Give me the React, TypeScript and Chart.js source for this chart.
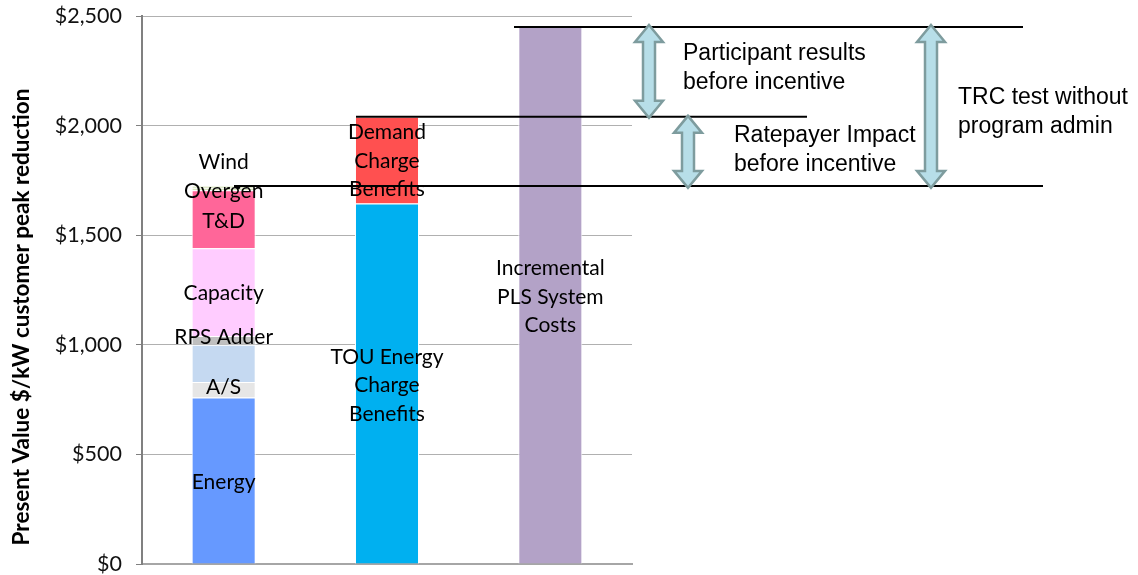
import { useEffect, useRef } from "react";
import { Chart, registerables } from "chart.js";

Chart.register(...registerables);

// ---- data ----
const categories = ["Avoided Costs", "Bill Savings", "PLS Costs"];
const energy = [760, null, null];
const ancillary = [70, null, null];
const otherAvoided = [170, null, null];
const rpsAdder = [40, null, null];
const capacity = [400, null, null];
const tnd = [265, null, null];
const overgen = [12, null, null];
const wind = [8, null, null];
const touEnergy = [null, 1645, null];
const demandCharge = [null, 395, null];
const plsCosts = [null, null, 2450];
const yTickMin = 0;
const yTickMax = 2500;
const yTickStep = 500;
const axisTitle = "Present Value $/kW customer peak reduction";
const noteParticipant = ["Participant results", "before incentive"];
const noteRatepayer = ["Ratepayer Impact", "before incentive"];
const noteTrc = ["TRC test without", "program admin"];

type DS = {
  label: string;
  data: (number | null)[];
  color: string;
  text: string[];
  offset?: number;
};

const seriesList: DS[] = [
  { label: "Energy", data: energy, color: "#6699FF", text: ["Energy"], offset: 2 },
  { label: "A/S", data: ancillary, color: "#E6E6E6", text: ["A/S"], offset: -3 },
  { label: "Other", data: otherAvoided, color: "#C5D9F1", text: [] },
  { label: "RPS Adder", data: rpsAdder, color: "#BFBFBF", text: ["RPS Adder"], offset: -3 },
  { label: "Capacity", data: capacity, color: "#FFCCFF", text: ["Capacity"], offset: 1 },
  { label: "T&D", data: tnd, color: "#FF6699", text: ["T&D"], offset: 2 },
  { label: "Overgen", data: overgen, color: "#D7E4BD", text: ["Overgen"], offset: 2 },
  { label: "Wind", data: wind, color: "#C3D69B", text: ["Wind"], offset: -25 },
  { label: "TOU Energy Charge Benefits", data: touEnergy, color: "#00B0F0", text: ["TOU Energy", "Charge", "Benefits"], offset: 2 },
  { label: "Demand Charge Benefits", data: demandCharge, color: "#FF5050", text: ["Demand", "Charge", "Benefits"], offset: 1 },
  { label: "Incremental PLS System Costs", data: plsCosts, color: "#B3A2C7", text: ["Incremental", "PLS System", "Costs"], offset: 2 },
];

const total = (i: number) =>
  seriesList.reduce((s, d) => s + (d.data[i] ?? 0), 0);

const labelPlugin = {
  id: "segLabels",
  afterDatasetsDraw(chart: any) {
    const ctx = chart.ctx;
    ctx.save();
    ctx.font = "21px Lato";
    ctx.fillStyle = "#000";
    ctx.textAlign = "center";
    ctx.textBaseline = "middle";
    const lh = 28.5;
    seriesList.forEach((s, di) => {
      const meta = chart.getDatasetMeta(di);
      meta.data.forEach((el: any, i: number) => {
        if (s.data[i] == null || !s.text.length) return;
        const cy = (el.y + el.base) / 2 + (s.offset ?? 0);
        const n = s.text.length;
        s.text.forEach((t, k) => {
          ctx.fillText(t, el.x, cy + (k - (n - 1) / 2) * lh);
        });
      });
    });
    ctx.restore();
  },
};

function drawDoubleArrow(ctx: CanvasRenderingContext2D, cx: number, y1: number, y2: number) {
  const sh = 6;
  const hh = 14;
  const hl = 17;
  ctx.beginPath();
  ctx.moveTo(cx, y1);
  ctx.lineTo(cx + hh, y1 + hl);
  ctx.lineTo(cx + sh, y1 + hl);
  ctx.lineTo(cx + sh, y2 - hl);
  ctx.lineTo(cx + hh, y2 - hl);
  ctx.lineTo(cx, y2);
  ctx.lineTo(cx - hh, y2 - hl);
  ctx.lineTo(cx - sh, y2 - hl);
  ctx.lineTo(cx - sh, y1 + hl);
  ctx.lineTo(cx - hh, y1 + hl);
  ctx.closePath();
  ctx.fillStyle = "#B7DEE8";
  ctx.fill();
  ctx.strokeStyle = "#7E9C9E";
  ctx.lineWidth = 2.5;
  ctx.lineJoin = "miter";
  ctx.stroke();
}

const notesPlugin = {
  id: "notes",
  afterDraw(chart: any) {
    const ctx = chart.ctx;
    const y = chart.scales.y;
    const yRate = y.getPixelForValue(total(0));
    const yBill = y.getPixelForValue(total(1));
    const yCost = y.getPixelForValue(total(2));
    ctx.save();
    // axis title
    ctx.save();
    ctx.translate(22, 317);
    ctx.rotate(-Math.PI / 2);
    ctx.font = "bold 22.5px Lato";
    ctx.fillStyle = "#000";
    ctx.textAlign = "center";
    ctx.textBaseline = "middle";
    ctx.fillText(axisTitle, 0, 0);
    ctx.restore();
    // horizontal lines
    ctx.strokeStyle = "#000";
    ctx.lineWidth = 2;
    const hline = (yy: number, x1: number, x2: number) => {
      ctx.beginPath();
      ctx.moveTo(x1, yy);
      ctx.lineTo(x2, yy);
      ctx.stroke();
    };
    hline(yRate, 234, 1043);
    hline(yBill, 356, 807);
    hline(yCost, 514, 1023);
    // arrows
    drawDoubleArrow(ctx, 649, yCost - 2, yBill + 1);
    drawDoubleArrow(ctx, 688, yBill - 1, yRate + 2);
    drawDoubleArrow(ctx, 931, yCost - 2, yRate + 2);
    // texts
    ctx.font = "23px 'Liberation Sans', Arial, sans-serif";
    ctx.fillStyle = "#000";
    ctx.textAlign = "left";
    ctx.textBaseline = "middle";
    const lh = 28.5;
    noteParticipant.forEach((t, k) => ctx.fillText(t, 683, 54 + k * lh));
    noteRatepayer.forEach((t, k) => ctx.fillText(t, 734, 136 + k * lh));
    noteTrc.forEach((t, k) => ctx.fillText(t, 958, 98 + k * lh));
    ctx.restore();
  },
};

export default function App() {
  const ref = useRef<HTMLCanvasElement | null>(null);
  useEffect(() => {
    if (!ref.current) return;
    const chart = new Chart(ref.current, {
      type: "bar",
      data: {
        labels: categories,
        datasets: seriesList.map((s) => ({
          label: s.label,
          data: s.data as any,
          backgroundColor: s.color,
          borderColor: "#FFFFFF",
          borderWidth: 1,
          categoryPercentage: 1,
          barPercentage: 0.392,
        })),
      },
      options: {
        animation: false,
        responsive: false,
        maintainAspectRatio: false,
        layout: { padding: { top: 16, right: 506, left: 0, bottom: 0 } },
        plugins: {
          legend: { display: false },
          tooltip: { enabled: false },
          title: { display: false },
        },
        scales: {
          x: {
            stacked: true,
            ticks: { display: false },
            grid: { display: false },
            border: { display: true, color: "#A6A6A6", width: 2 },
            afterFit: (s: any) => {
              s.height = 11;
            },
          },
          y: {
            stacked: true,
            min: yTickMin,
            max: yTickMax,
            ticks: {
              stepSize: yTickStep,
              padding: 14,
              color: "#111",
              font: { family: "Lato", size: 21.5 },
              callback: (v: any) => "$" + Number(v).toLocaleString("en-US"),
            },
            grid: {
              color: "#B0B0B0",
              lineWidth: 1,
              tickLength: 6,
              tickColor: "#808080",
            },
            border: { display: true, color: "#808080", width: 2 },
            afterFit: (s: any) => {
              s.width = 142;
              s.paddingTop = 0;
              s.paddingBottom = 0;
            },
          },
        },
      },
      plugins: [labelPlugin, notesPlugin],
    });
    return () => chart.destroy();
  }, []);
  return (
    <div style={{ position: "fixed", left: 0, top: 0, width: 1138, height: 575, background: "#fff" }}>
      <canvas ref={ref} width={1138} height={575} style={{ width: 1138, height: 575, display: "block" }} />
    </div>
  );
}
